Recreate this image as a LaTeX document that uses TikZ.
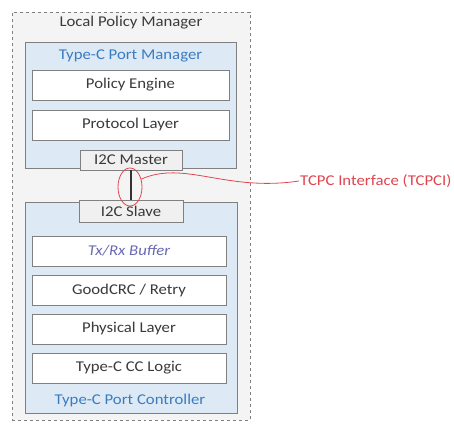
\documentclass[tikz,border=0pt]{standalone}
\usepackage{fontspec}
\setmainfont{Carlito}
\newfontfamily\diagfont[FakeStretch=1.12]{Carlito}
\usetikzlibrary{shapes.geometric}

\definecolor{boxgray}{HTML}{808080}
\definecolor{textgray}{HTML}{3A3A3A}
\definecolor{panelblue}{HTML}{DDEAF6}
\definecolor{titleblue}{HTML}{3A7CC0}
\definecolor{bufferblue}{HTML}{6A6AB0}
\definecolor{ifred}{HTML}{E0454F}
\definecolor{lpmback}{HTML}{F4F4F4}

\tikzset{
  diagtext/.style={font=\diagfont\fontsize{15}{17}\selectfont},
  layerbox/.style={diagtext, text=textgray, draw=boxgray, fill=white, line width=0.9pt, minimum width=197bp, minimum height=30bp, inner sep=0pt},
  i2cbox/.style={diagtext, text=textgray, draw=boxgray, fill=white!94!black, line width=0.9pt, minimum height=20bp, inner sep=0pt},
  panel/.style={draw=boxgray, fill=panelblue, line width=0.9pt, inner sep=0pt},
  paneltitle/.style={diagtext, text=titleblue}
}

\begin{document}
\begin{tikzpicture}[x=1bp, y=-1bp]
    \useasboundingbox (0,0) rectangle (454,423);

    % Local policy manager
    \node[draw=boxgray, dashed, fill=lpmback, line width=0.8pt, minimum width=238bp, minimum height=408bp, inner sep=0pt] (lpm) at (131,216) {};
    \node[diagtext, text=textgray] (lpmtitle) at (131,23) {Local Policy Manager};

    % Port manager
    \node[panel, minimum width=211bp, minimum height=126bp] (tcpm) at (130.5,105) {};
    \node[paneltitle] (tcpmtitle) at (130.5,56) {Type-C Port Manager};
    \node[layerbox] (pe) at (130.5,85) {Policy Engine};
    \node[layerbox] (pl) at (130.5,125) {Protocol Layer};
    \node[i2cbox, minimum width=102bp] (master) at (131,160) {I2C Master};

    % Port controller
    \node[panel, minimum width=212bp, minimum height=211bp] (tcpc) at (131,307.5) {};
    \node[i2cbox, minimum width=104bp, minimum height=22bp] (slave) at (131,211) {I2C Slave};
    \node[layerbox, minimum width=194bp] (txrx) at (129,251) {\textcolor{bufferblue}{\itshape Tx/Rx Buffer}};
    \node[layerbox, minimum width=194bp] (gcrc) at (129,290.5) {GoodCRC / Retry};
    \node[layerbox, minimum width=194bp] (phy) at (129,329) {Physical Layer};
    \node[layerbox, minimum width=194bp] (ccl) at (129,368) {Type-C CC Logic};
    \node[paneltitle] (tcpctitle) at (130,401) {Type-C Port Controller};

    % I2C link
    \draw[line width=2.2pt, black!80] (master.south) -- (slave.north);

    % TCPCI callout
    \node[ellipse, draw=ifred, line width=0.8pt, minimum width=24bp, minimum height=38bp, inner sep=0pt] (ring) at (130,187) {};
    \node[diagtext, anchor=west, text=ifred, inner sep=1pt] (tcpci) at (299,181) {TCPC Interface (TCPCI)};
    \draw[ifred, line width=0.8pt] (ring.35) .. controls (185,160) and (225,192) .. (tcpci.west);
\end{tikzpicture}
\end{document}
